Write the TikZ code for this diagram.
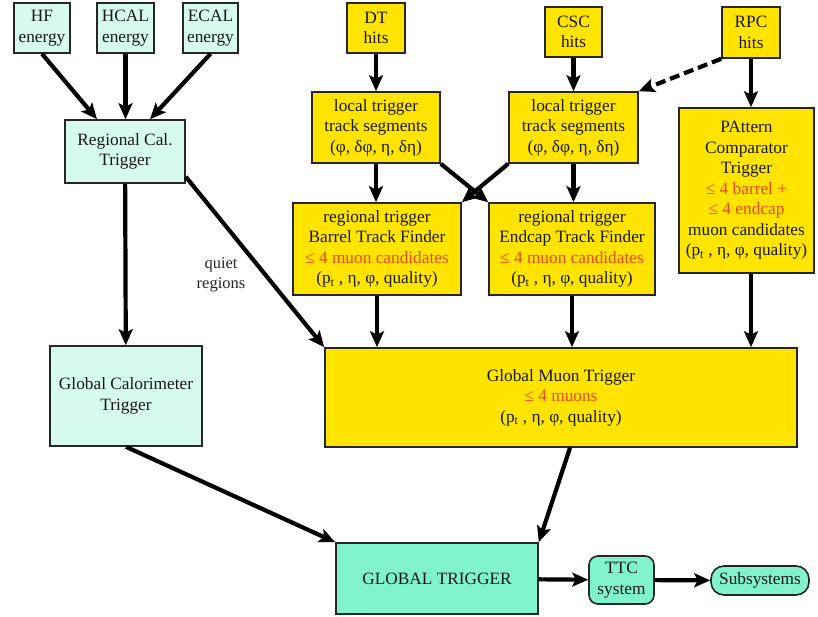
\documentclass[tikz,border=0pt]{standalone}
\usepackage{fontspec}
\setmainfont{Liberation Serif}
\usetikzlibrary{arrows.meta, positioning}

\definecolor{muonyellow}{HTML}{FFE400}
\definecolor{calmint}{HTML}{D6FAEE}
\definecolor{gtaqua}{HTML}{80F2CE}
\definecolor{candred}{HTML}{E8481E}
\newcommand\cand[1]{\textcolor{candred}{#1}}
\newcommand\ptsub{p\textsubscript{t}}

\begin{document}
\begin{tikzpicture}[
    x=1pt, y=-1pt,
    box/.style={
      draw=black!85, line width=1.6pt, align=center, inner sep=0pt,
      text=black!90, font=\fontsize{17.3}{20.5}\selectfont
    },
    calbox/.style={box, fill=calmint},
    muonbox/.style={box, fill=muonyellow},
    gtbox/.style={box, fill=gtaqua},
    arr/.style={-{Stealth[length=16pt, width=14pt, inset=3.5pt]}, line width=4.2pt},
    dasharr/.style={arr, dash pattern=on 10pt off 5pt},
    note/.style={align=center, text=black!85, font=\fontsize{16.5}{20}\selectfont}
  ]
    \useasboundingbox (0,0) rectangle (818,616);

    % Calorimeter side
    \node[calbox, minimum width=56pt, minimum height=50pt]  (hf)   at (42,28)    {HF\\energy};
    \node[calbox, minimum width=57pt, minimum height=50pt]  (hcal) at (125.5,28) {HCAL\\energy};
    \node[calbox, minimum width=55pt, minimum height=50pt]  (ecal) at (210.5,28) {ECAL\\energy};
    \node[calbox, minimum width=120pt, minimum height=63pt] (rct)  at (125,151.5) {Regional Cal.\\Trigger};
    \node[calbox, minimum width=152pt, minimum height=100pt] (gct) at (126,396)  {Global Calorimeter\\Trigger};

    % Muon hits
    \node[muonbox, minimum width=58pt, minimum height=50pt] (dt)  at (376,28)   {DT\\hits};
    \node[muonbox, minimum width=57pt, minimum height=50pt] (csc) at (573.5,32) {CSC\\hits};
    \node[muonbox, minimum width=58pt, minimum height=51pt] (rpc) at (751,32.5) {RPC\\hits};

    % Local triggers
    \node[muonbox, minimum width=128pt, minimum height=71pt] (ltdt)  at (376,127.5)
      {local trigger\\track segments\\(φ, δφ, η, δη)};
    \node[muonbox, minimum width=129pt, minimum height=71pt] (ltcsc) at (573.5,127.5)
      {local trigger\\track segments\\(φ, δφ, η, δη)};

    % Regional track finders and PACT
    \node[muonbox, minimum width=168pt, minimum height=92pt] (btf) at (377,249)
      {regional trigger\\Barrel Track Finder\\\cand{≤ 4 muon candidates}\\(\ptsub\ , η, φ, quality)};
    \node[muonbox, minimum width=166pt, minimum height=92pt] (etf) at (572,249)
      {regional trigger\\Endcap Track Finder\\\cand{≤ 4 muon candidates}\\(\ptsub\ , η, φ, quality)};
    \node[muonbox, minimum width=135pt, minimum height=165pt] (pact) at (746.5,190.5)
      {PAttern\\Comparator\\Trigger\\\cand{≤ 4 barrel +}\\\cand{≤ 4 endcap}\\muon candidates\\(\ptsub\ , η, φ, quality)};

    % Global level
    \node[muonbox, minimum width=472pt, minimum height=99pt] (gmt) at (561,397.5)
      {Global Muon Trigger\\\cand{≤ 4 muons}\\(\ptsub\ , η, φ, quality)};
    \node[gtbox, minimum width=202pt, minimum height=71pt] (gt) at (437,578.5) {GLOBAL TRIGGER};
    \node[gtbox, rounded corners=9pt, minimum width=65pt, minimum height=48pt] (ttc) at (621.5,580) {TTC\\system};
    \node[gtbox, rounded corners=13pt, minimum width=98pt, minimum height=29pt] (sub) at (760,580.5) {Subsystems};

    \node[note] (quiet) at (221,275) {quiet\\regions};

    % Calorimeter arrows
    \draw[arr] (hf.south)   -- ([xshift=-28pt]rct.north);
    \draw[arr] (hcal.south) -- (hcal.south |- rct.north);
    \draw[arr] (ecal.south) -- ([xshift=25pt]rct.north);
    \draw[arr] (rct) -- (gct);
    \draw[arr] ([yshift=7pt]rct.south east) -- (gmt.north west);
    \draw[arr] (gct.south) -- (gt.north west);

    % Muon arrows
    \draw[arr] (dt)  -- (ltdt);
    \draw[arr] (csc) -- (ltcsc);
    \draw[arr] (rpc.south) -- (rpc.south |- pact.north);
    \draw[dasharr] (rpc.south west) -- (ltcsc.north east);
    \draw[arr] (ltdt.south)       -- (ltdt.south |- btf.north);
    \draw[arr] (ltdt.south east)  -- (etf.north west);
    \draw[arr] (ltcsc.south west) -- (btf.north east);
    \draw[arr] (ltcsc.south)      -- (ltcsc.south |- etf.north);
    \draw[arr] (btf) -- (btf |- gmt.north);
    \draw[arr] (etf) -- (etf |- gmt.north);
    \draw[arr] (rpc.south |- pact.south) -- (rpc.south |- gmt.north);

    % Output chain
    \draw[arr] ([xshift=9pt]gmt.south) -- (gt.north east);
    \draw[arr] (gt)  -- (ttc);
    \draw[arr] (ttc) -- (sub);
\end{tikzpicture}
\end{document}
